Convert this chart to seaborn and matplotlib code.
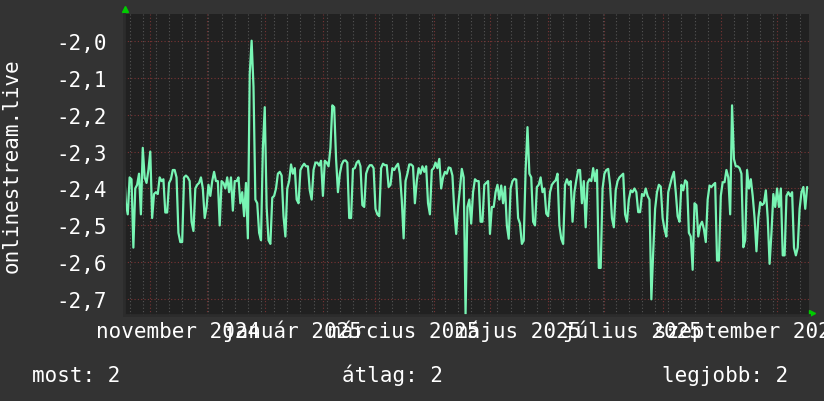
import numpy as np
import pandas as pd
import matplotlib
matplotlib.use('Agg')
import matplotlib.pyplot as plt
import matplotlib.dates as mdates
import matplotlib.transforms as mtrans
from matplotlib.ticker import NullFormatter
import seaborn as sns

# one value per day
start = '2024-10-18'
end = '2025-10-18'

vals_oct_dec = [-2.35, -2.44, -2.47, -2.37, -2.375, -2.56, -2.40, -2.39, -2.36, -2.47,
                -2.29, -2.37, -2.385, -2.35, -2.30, -2.48, -2.415, -2.41, -2.415, -2.37,
                -2.38, -2.375, -2.465, -2.465, -2.385, -2.375, -2.35, -2.35, -2.37, -2.52,
                -2.545, -2.545, -2.37, -2.365, -2.37, -2.38, -2.49, -2.515, -2.40, -2.39,
                -2.385, -2.37, -2.40, -2.48, -2.45, -2.39, -2.42, -2.38, -2.355, -2.38,
                -2.38, -2.50, -2.38, -2.385, -2.40, -2.37, -2.41, -2.37, -2.46, -2.38,
                -2.38]
vals_dec_feb = [-2.37, -2.44, -2.41, -2.475, -2.385, -2.535, -2.09, -2.00, -2.125, -2.43,
                -2.44, -2.52, -2.54, -2.29, -2.18, -2.45, -2.54, -2.55, -2.425, -2.42,
                -2.40, -2.36, -2.355, -2.365, -2.475, -2.53, -2.40, -2.38, -2.335, -2.36,
                -2.345, -2.43, -2.44, -2.35, -2.34, -2.333, -2.34, -2.34, -2.405, -2.43,
                -2.35, -2.33, -2.33, -2.338, -2.325, -2.42, -2.325, -2.33, -2.34, -2.29,
                -2.175, -2.18, -2.32, -2.41, -2.36, -2.335, -2.325, -2.324, -2.33, -2.48,
                -2.48]
vals_feb_apr = [-2.347, -2.345, -2.33, -2.325, -2.34, -2.445, -2.45, -2.36, -2.345, -2.337,
                -2.337, -2.345, -2.455, -2.47, -2.475, -2.345, -2.333, -2.337, -2.337, -2.396,
                -2.39, -2.345, -2.35, -2.34, -2.333, -2.36, -2.43, -2.535, -2.38, -2.36,
                -2.335, -2.335, -2.34, -2.44, -2.38, -2.345, -2.36, -2.34, -2.355, -2.34,
                -2.44, -2.47, -2.35, -2.345, -2.33, -2.345, -2.32, -2.40, -2.37, -2.355,
                -2.36, -2.343, -2.345, -2.365, -2.46, -2.523, -2.45, -2.40, -2.347, -2.37,
                -2.74]
vals_apr_jun = [-2.45, -2.43, -2.495, -2.41, -2.375, -2.38, -2.38, -2.49, -2.49, -2.39,
                -2.385, -2.38, -2.523, -2.45, -2.45, -2.41, -2.39, -2.43, -2.392, -2.44,
                -2.395, -2.50, -2.536, -2.40, -2.38, -2.374, -2.376, -2.48, -2.495, -2.55,
                -2.54, -2.35, -2.234, -2.36, -2.37, -2.49, -2.50, -2.396, -2.39, -2.37,
                -2.41, -2.40, -2.468, -2.475, -2.41, -2.39, -2.383, -2.378, -2.36, -2.50,
                -2.536, -2.55, -2.39, -2.375, -2.39, -2.38, -2.49, -2.41, -2.378, -2.35]
vals_jun_aug = [-2.35, -2.44, -2.38, -2.505, -2.385, -2.375, -2.38, -2.345, -2.38, -2.35,
                -2.615, -2.615, -2.40, -2.36, -2.35, -2.347, -2.39, -2.48, -2.505, -2.405,
                -2.38, -2.37, -2.365, -2.36, -2.47, -2.49, -2.43, -2.405, -2.41, -2.40,
                -2.41, -2.464, -2.464, -2.415, -2.42, -2.40, -2.42, -2.43, -2.70, -2.57,
                -2.455, -2.41, -2.39, -2.395, -2.48, -2.51, -2.53, -2.41, -2.39, -2.37,
                -2.355, -2.41, -2.475, -2.49, -2.39, -2.405, -2.378, -2.383, -2.52, -2.53]
vals_aug_oct = [-2.62, -2.44, -2.445, -2.53, -2.50, -2.49, -2.51, -2.545, -2.43, -2.392,
                -2.396, -2.39, -2.385, -2.595, -2.595, -2.42, -2.383, -2.383, -2.35, -2.37,
                -2.47, -2.175, -2.32, -2.34, -2.34, -2.345, -2.36, -2.559, -2.54, -2.35,
                -2.40, -2.375, -2.42, -2.48, -2.57, -2.48, -2.437, -2.445, -2.44, -2.405,
                -2.48, -2.604, -2.52, -2.415, -2.45, -2.40, -2.45, -2.40, -2.581, -2.581,
                -2.42, -2.41, -2.42, -2.41, -2.56, -2.581, -2.56, -2.455, -2.41, -2.396,
                -2.455, -2.396]

values = vals_oct_dec + vals_dec_feb + vals_feb_apr + vals_apr_jun + vals_jun_aug + vals_aug_oct
dates = pd.date_range(start, periods=len(values), freq='D')
df = pd.DataFrame({'date': dates, 'value': values})

yticks = [-2.0, -2.1, -2.2, -2.3, -2.4, -2.5, -2.6, -2.7]
ytick_labels = ['-2,0', '-2,1', '-2,2', '-2,3', '-2,4', '-2,5', '-2,6', '-2,7']
label_months = ['2024-11-01', '2025-01-01', '2025-03-01', '2025-05-01', '2025-07-01', '2025-09-01']
month_names = ['november 2024', 'január 2025', 'március 2025', 'május 2025', 'július 2025', 'szeptember 2025']
ylab = 'onlinestream.live'
legend_texts = ['most: 2', 'átlag: 2', 'legjobb: 2']

sns.set_style('dark')
plt.rcParams['font.family'] = ['DejaVu Sans Mono']
fs = 15

fig = plt.figure(figsize=(8.24, 4.02), dpi=100, facecolor='#333333')
ax = fig.add_axes([124/824, 1-316/402, 685/824, 301/402])
ax.set_facecolor('#212121')
ax.set_axisbelow(True)

sns.lineplot(data=df, x='date', y='value', ax=ax, color='#78f5b4', linewidth=1.6)

ax.set_xlim(pd.Timestamp(start), pd.Timestamp(end))
ax.set_ylim(-2.7424, -1.9278)
ax.set_yticks(yticks, ytick_labels)
ax.xaxis.set_major_locator(mdates.MonthLocator())
ax.xaxis.set_minor_locator(mdates.WeekdayLocator(byweekday=mdates.MO))
ax.xaxis.set_major_formatter(NullFormatter())
ax.xaxis.set_minor_formatter(NullFormatter())
ax.set_xlabel('')
ax.set_ylabel('')

ax.grid(which='major', color='#7a3434', linestyle=(0, (1, 2)), linewidth=0.8)
ax.grid(which='minor', axis='x', color='#555555', linestyle=(0, (1, 2)), linewidth=0.8)
ax.tick_params(which='both', length=0, colors='white', labelsize=fs)
ax.tick_params(axis='y', pad=12)

for s in ['top', 'right']:
    ax.spines[s].set_visible(False)
for s in ['left', 'bottom']:
    ax.spines[s].set_color('#2c2c2c')
    ax.spines[s].set_linewidth(2)

trans = mtrans.blended_transform_factory(ax.transData, ax.transAxes)
for m, name in zip(label_months, month_names):
    x = pd.Timestamp(m) + pd.Timedelta(days=15)
    ax.text(x, -0.073, name, transform=trans, ha='center', va='baseline',
            color='white', fontsize=fs, clip_on=False)

# rrdtool style axis arrows
ax.plot([0.0015], [1.017], marker='^', color='#00cc00', ms=5, transform=ax.transAxes, clip_on=False)
ax.plot([1.004], [0.006], marker='>', color='#00cc00', ms=5, transform=ax.transAxes, clip_on=False)

fig.text(12/824, 1-165.5/402, ylab, rotation=90, ha='center', va='center', color='white', fontsize=fs)

for t, xpos in zip(legend_texts, [32, 342, 662]):
    fig.text(xpos/824, 20/402, t, ha='left', va='baseline', color='white', fontsize=fs)

plt.savefig('out.png', dpi=100, facecolor=fig.get_facecolor())
